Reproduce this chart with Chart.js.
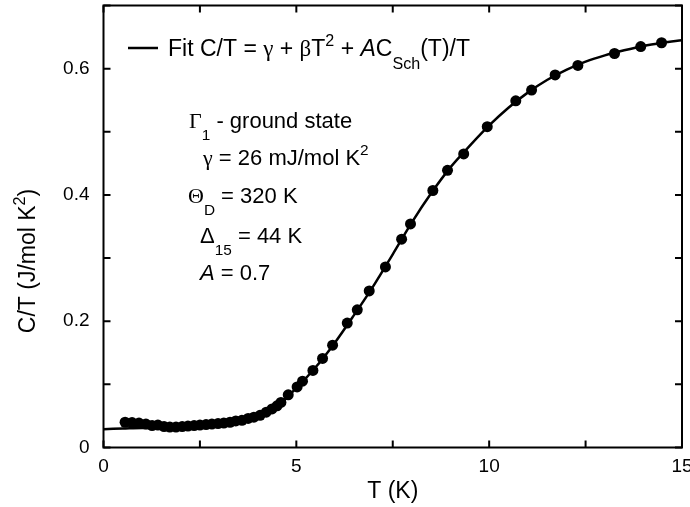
<!DOCTYPE html>
<html>
<head>
<meta charset="utf-8">
<script src="https://cdn.jsdelivr.net/npm/chart.js@4.4.1/dist/chart.umd.min.js"></script>
<style>
  html, body { margin: 0; padding: 0; background: #fff; }
  #wrap { width: 690px; height: 507px; }
</style>
</head>
<body>
<div id="wrap"><canvas id="c"></canvas></div>
<script>
/* measured C/T points (T in K, C/T in J/mol K^2) */
const measT = [0.56, 0.74, 0.92, 1.10, 1.26, 1.41, 1.57, 1.72, 1.88, 2.04, 2.19, 2.35, 2.50,
  2.66, 2.81, 2.97, 3.12, 3.28, 3.43, 3.59, 3.75, 3.90, 4.06, 4.22, 4.37, 4.50,
  4.60, 4.79, 5.02, 5.16, 5.43, 5.68, 5.94, 6.32, 6.58, 6.89, 7.31, 7.73, 7.96,
  8.54, 8.92, 9.34, 9.95, 10.69, 11.10, 11.71, 12.30, 13.25, 13.93, 14.47];
const measC = [0.040, 0.0395, 0.0387, 0.0371, 0.0348, 0.0355, 0.0332, 0.0324, 0.0324, 0.0332,
  0.034, 0.0348, 0.0355, 0.0363, 0.0371, 0.0379, 0.0387, 0.040, 0.042, 0.043, 0.046,
  0.048, 0.051, 0.056, 0.061, 0.066,
  0.0714, 0.0834, 0.096, 0.105, 0.122, 0.141, 0.162, 0.197, 0.218, 0.248, 0.286, 0.330, 0.354,
  0.407, 0.439, 0.465, 0.508, 0.549, 0.566, 0.590, 0.605, 0.624, 0.635, 0.641];

/* fit curve */
const fitT = [0, 0.5, 1, 1.5, 2, 2.5, 3, 3.5, 4, 4.5, 5, 5.5, 6, 6.5, 7, 7.5, 8, 8.5,
  9, 9.5, 10, 10.5, 11, 11.5, 12, 12.5, 13, 13.5, 14, 14.5, 15];
const fitC = [0.029, 0.030, 0.031, 0.031, 0.032, 0.034, 0.037, 0.042, 0.050, 0.066, 0.094,
  0.127, 0.166, 0.210, 0.256, 0.306, 0.357, 0.403, 0.444, 0.478, 0.510, 0.538, 0.562,
  0.582, 0.598, 0.611, 0.621, 0.629, 0.636, 0.641, 0.645];

const xLabelled = [0, 5, 10, 15];
const yLabelled = [0, 0.2, 0.4, 0.6];

const SANS = "'Liberation Sans', Arial, sans-serif";
const SERIF = "'Liberation Serif', 'Times New Roman', serif";

// draws a run of text pieces, with sub/superscripts and italics
function drawRich(ctx, x, y, parts, size) {
  ctx.textBaseline = 'alphabetic';
  ctx.textAlign = 'left';
  parts.forEach(p => {
    let s = size, dy = 0;
    if (p.sub) { s = size * 0.7; dy = size * 0.55; }
    if (p.sup) { s = size * 0.7; dy = -size * 0.45; }
    ctx.font = (p.it ? 'italic ' : '') + s + 'px ' + (p.serif ? SERIF : SANS);
    ctx.fillText(p.t, x, y + dy);
    x += ctx.measureText(p.t).width;
  });
  return x;
}

const framePlugin = {
  id: 'frame',
  afterDatasetsDraw(chart) {
    const { ctx, chartArea: a, scales } = chart;
    ctx.save();
    ctx.strokeStyle = '#000';
    ctx.lineWidth = 2;
    ctx.strokeRect(a.left, a.top, a.right - a.left, a.bottom - a.top);
    const tl = 7;
    ctx.beginPath();
    scales.x.ticks.forEach(t => {
      const px = scales.x.getPixelForValue(t.value);
      ctx.moveTo(px, a.bottom); ctx.lineTo(px, a.bottom - tl);
      ctx.moveTo(px, a.top); ctx.lineTo(px, a.top + tl);
    });
    scales.y.ticks.forEach(t => {
      const py = scales.y.getPixelForValue(t.value);
      ctx.moveTo(a.left, py); ctx.lineTo(a.left + tl, py);
      ctx.moveTo(a.right, py); ctx.lineTo(a.right - tl, py);
    });
    ctx.stroke();
    ctx.restore();
  },
  afterDraw(chart) {
    const { ctx, chartArea: a } = chart;
    ctx.save();
    ctx.fillStyle = '#000';

    // axis titles
    const ts = 23;
    ctx.font = ts + 'px ' + SANS;
    ctx.textAlign = 'center';
    ctx.textBaseline = 'middle';
    ctx.fillText('T (K)', (a.left + a.right) / 2, 492);

    ctx.save();
    ctx.translate(35, 261);
    ctx.rotate(-Math.PI / 2);
    ctx.font = ts + 'px ' + SANS;
    const p1 = 'C/T (J/mol K', p2 = '2', p3 = ')';
    const w1 = ctx.measureText(p1).width, w3 = ctx.measureText(p3).width;
    ctx.font = (ts * 0.7) + 'px ' + SANS;
    const w2 = ctx.measureText(p2).width;
    drawRich(ctx, -(w1 + w2 + w3) / 2, 0, [{ t: p1 }, { t: p2, sup: true }, { t: p3 }], ts);
    ctx.restore();

    // legend
    ctx.strokeStyle = '#000';
    ctx.lineWidth = 2.5;
    ctx.beginPath();
    ctx.moveTo(128, 48); ctx.lineTo(158, 48);
    ctx.stroke();
    drawRich(ctx, 168, 56, [
      { t: 'Fit C/T = ' }, { t: 'γ', serif: true }, { t: ' + ' }, { t: 'β', serif: true }, { t: 'T' },
      { t: '2', sup: true }, { t: ' + ' }, { t: 'A', it: true }, { t: 'C' }, { t: 'Sch', sub: true },
      { t: '(T)/T' }
    ], 23);

    // fit parameters
    const fs = 22;
    drawRich(ctx, 189, 128, [{ t: 'Γ', serif: true }, { t: '1', sub: true }, { t: ' - ground state' }], fs);
    drawRich(ctx, 203, 165, [{ t: 'γ', serif: true }, { t: ' = 26 mJ/mol K' }, { t: '2', sup: true }], fs);
    drawRich(ctx, 188, 203, [{ t: 'Θ', serif: true }, { t: 'D', sub: true }, { t: ' = 320 K' }], fs);
    drawRich(ctx, 200, 243, [{ t: 'Δ' }, { t: '15', sub: true }, { t: ' = 44 K' }], fs);
    drawRich(ctx, 200, 280, [{ t: 'A', it: true }, { t: ' = 0.7' }], fs);
    ctx.restore();
  }
};

new Chart(document.getElementById('c'), {
  type: 'scatter',
  data: {
    datasets: [
      {
        type: 'line',
        label: 'Fit',
        data: fitT.map((t, i) => ({ x: t, y: fitC[i] })),
        borderColor: '#000',
        borderWidth: 2.5,
        pointRadius: 0,
        cubicInterpolationMode: 'monotone',
        fill: false,
      },
      {
        label: 'C/T',
        data: measT.map((t, i) => ({ x: t, y: measC[i] })),
        backgroundColor: '#000',
        borderColor: '#000',
        pointRadius: 5.5,
        borderWidth: 0,
      }
    ]
  },
  options: {
    responsive: true, maintainAspectRatio: false,
    animation: false,
    layout: { padding: { top: 4, right: 8, left: 0, bottom: 0 } },
    scales: {
      x: {
        type: 'linear', min: 0, max: 15,
        grid: { display: false, drawTicks: false },
        border: { display: false },
        ticks: {
          stepSize: 2.5, autoSkip: false, maxRotation: 0, padding: 8,
          color: '#000', font: { size: 19, family: SANS },
          callback: v => xLabelled.includes(v) ? String(v) : ''
        },
        afterFit: s => { s.height = 59.5; s.paddingLeft = 0; s.paddingRight = 0; }
      },
      y: {
        type: 'linear', min: 0, max: 0.7,
        grid: { display: false, drawTicks: false },
        border: { display: false },
        ticks: {
          stepSize: 0.1, autoSkip: false, padding: 14,
          color: '#000', font: { size: 19, family: SANS },
          callback: v => yLabelled.some(l => Math.abs(l - v) < 1e-6) ? String(Math.round(v * 10) / 10) : ''
        },
        afterFit: s => { s.width = 103.5; s.paddingTop = 0; s.paddingBottom = 0; }
      }
    },
    plugins: { legend: { display: false }, tooltip: { enabled: false } }
  },
  plugins: [framePlugin]
});
</script>
</body>
</html>
